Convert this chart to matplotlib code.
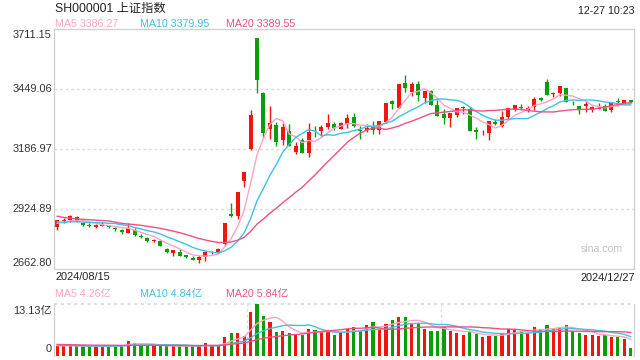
import numpy as np
import pandas as pd
import matplotlib
matplotlib.use("Agg")
import matplotlib.pyplot as plt

plt.rcParams['font.family'] = ['Liberation Sans', 'Noto Sans CJK SC']

# SSE Composite daily candles, 2024/08/15 - 2024/12/27
opens = [2845, 2873, 2878, 2891, 2862, 2857, 2846, 2852, 2854, 2844,
         2835, 2819, 2835, 2807, 2798, 2784, 2786, 2752, 2733, 2738,
         2722, 2712, 2702, 2716, 2735, 2737, 2770, 2901, 2893, 3049,
         3187, 3674, 3433, 3275, 3290, 3225, 3265, 3176, 3225, 3171,
         3272, 3264, 3285, 3294, 3275, 3295, 3325, 3270, 3270, 3285,
         3268, 3307, 3395, 3368, 3474, 3436, 3470, 3409, 3441, 3378,
         3342, 3322, 3335, 3364, 3362, 3268, 3255, 3259, 3305, 3286,
         3325, 3360, 3370, 3358, 3369, 3410, 3478, 3426, 3432, 3455,
         3390, 3375, 3375, 3360, 3363, 3375, 3356, 3397, 3388, 3400]
highs = [2879, 2885, 2900, 2896, 2866, 2862, 2860, 2867, 2857, 2848,
         2837, 2865, 2840, 2815, 2804, 2795, 2790, 2754, 2746, 2748,
         2724, 2720, 2722, 2741, 2741, 2756, 2864, 2952, 3000, 3088,
         3358, 3674, 3434, 3374, 3303, 3300, 3294, 3218, 3233, 3302,
         3286, 3290, 3339, 3306, 3306, 3340, 3344, 3286, 3296, 3308,
         3311, 3387, 3403, 3470, 3509, 3480, 3485, 3441, 3446, 3403,
         3362, 3346, 3368, 3375, 3369, 3282, 3272, 3310, 3320, 3353,
         3367, 3380, 3382, 3374, 3412, 3413, 3494, 3436, 3462, 3455,
         3397, 3375, 3396, 3375, 3390, 3384, 3394, 3410, 3399, 3401]
lows = [2835, 2865, 2870, 2866, 2850, 2845, 2843, 2849, 2844, 2830,
        2816, 2818, 2808, 2800, 2782, 2779, 2764, 2733, 2720, 2720,
        2711, 2703, 2689, 2699, 2730, 2733, 2762, 2889, 2882, 3020,
        3183, 3431, 3237, 3231, 3201, 3204, 3201, 3166, 3169, 3152,
        3240, 3243, 3276, 3272, 3274, 3280, 3284, 3232, 3262, 3254,
        3251, 3302, 3362, 3366, 3437, 3420, 3398, 3388, 3379, 3330,
        3298, 3285, 3325, 3342, 3267, 3230, 3249, 3228, 3291, 3285,
        3320, 3352, 3358, 3350, 3359, 3395, 3421, 3415, 3418, 3391,
        3380, 3339, 3348, 3349, 3360, 3351, 3349, 3376, 3383, 3390]
closes = [2877, 2879, 2893, 2866, 2856, 2849, 2854, 2855, 2848, 2837,
          2823, 2842, 2811, 2802, 2785, 2788, 2765, 2736, 2744, 2721,
          2717, 2704, 2717, 2736, 2736, 2748, 2863, 2896, 3000, 3087,
          3336, 3489, 3258, 3301, 3217, 3284, 3202, 3202, 3169, 3261,
          3268, 3285, 3302, 3280, 3300, 3322, 3286, 3266, 3279, 3272,
          3310, 3387, 3383, 3470, 3452, 3470, 3421, 3439, 3379, 3331,
          3324, 3346, 3367, 3370, 3267, 3263, 3259, 3309, 3295, 3326,
          3364, 3378, 3368, 3368, 3404, 3402, 3422, 3432, 3461, 3391,
          3386, 3361, 3382, 3370, 3368, 3352, 3393, 3394, 3399, 3393]
# volume in 亿
volumes = [2.6, 2.5, 2.6, 2.5, 2.4, 2.4, 2.4, 2.5, 2.4, 2.8,
           2.8, 3.9, 3.4, 2.7, 2.7, 2.5, 2.5, 2.5, 2.5, 2.5,
           2.5, 2.5, 2.5, 3.2, 2.5, 2.5, 4.7, 5.9, 5.9, 5.0,
           11.1, 13.13, 10.0, 8.5, 6.1, 6.3, 5.9, 5.4, 5.4, 6.8,
           6.6, 6.1, 6.1, 5.4, 5.9, 6.75, 7.4, 6.3, 7.9, 8.5,
           6.75, 8.1, 9.0, 9.8, 9.8, 8.1, 8.3, 6.8, 6.3, 6.3,
           7.3, 6.3, 5.86, 5.25, 6.1, 5.6, 4.7, 5.0, 5.0, 5.86,
           6.75, 6.75, 6.3, 5.86, 7.2, 6.8, 7.9, 6.75, 7.2, 7.9,
           6.3, 5.86, 5.25, 5.25, 5.0, 5.4, 4.7, 4.7, 4.3, 2.0]

# 19 sessions before the window, needed for the moving averages
prior_closes = [2982, 2964, 2915, 2901, 2886, 2890, 2891, 2879, 2938, 2932,
                2905, 2860, 2867, 2869, 2870, 2862, 2858, 2868, 2850]
prior_volumes = [3.3, 3.1, 2.9, 3.4, 3.0, 2.8, 2.7, 2.6, 2.9, 3.8,
                 3.3, 2.9, 3.0, 2.8, 2.7, 2.6, 2.6, 2.7, 2.6]

y_ticks = [3711.15, 3449.06, 3186.97, 2924.89, 2662.80]
ma_windows = [5, 10, 20]
ma_colors = ['#ffa3c4', '#3cc2e2', '#ef4f88']
price_ma_text = ['MA5 3386.27', 'MA10 3379.95', 'MA20 3389.55']
vol_ma_text = ['MA5 4.26亿', 'MA10 4.84亿', 'MA20 5.84亿']
start_label, end_label = '2024/08/15', '2024/12/27'

UP = '#f2150f'
DOWN = '#0a9e0a'
GRID = '#dcdcdc'
BORDER = '#cfcfcf'

W, H = 640, 360


def fx(x):
    return x / W


def fy(y):
    return 1 - y / H


n = len(closes)
x = np.arange(n)
o = np.array(opens, float)
c = np.array(closes, float)
colors = [UP if cc >= oo else DOWN for oo, cc in zip(o, c)]

close_all = pd.Series(prior_closes + closes)
vol_all = pd.Series(prior_volumes + volumes)
price_ma = [close_all.rolling(w).mean().values[-n:] for w in ma_windows]
vol_ma = [vol_all.rolling(w).mean().values[-n:] for w in ma_windows]

fig = plt.figure(figsize=(6.4, 3.6), dpi=100)

# ---- price panel
ax = fig.add_axes([fx(54), fy(269), 580 / W, 240 / H])
ax.set_xlim(-0.5, n - 0.5)
ax.set_ylim(y_ticks[-1], y_ticks[0])
for v in y_ticks[1:-1]:
    ax.axhline(v, color=GRID, lw=1.0, dashes=(2, 2), zorder=0)

ax.vlines(x, lows, highs, colors=colors, lw=1.0, zorder=2)
body_low = np.minimum(o, c)
body_h = np.maximum(np.abs(c - o), 4.0)
ax.bar(x, body_h, bottom=body_low, width=0.62, color=colors, lw=0, zorder=2)

for ma, col in zip(price_ma, ma_colors):
    ax.plot(x, ma, color=col, lw=1.0, zorder=3)

ax.set_xticks([])
ax.set_yticks([])
for s in ax.spines.values():
    s.set_color(BORDER)
    s.set_linewidth(0.9)

# price axis labels (top and bottom ones sit inside the box)
lab_y = [30, 89, 149, 209, 268]
lab_va = ['top', 'center', 'center', 'center', 'bottom']
for v, yy, va in zip(y_ticks, lab_y, lab_va):
    fig.text(fx(52), fy(yy), f'{v:.2f}', ha='right', va=va, fontsize=7.9, color='#333333')

fig.text(fx(602), fy(249), 'sina.com', ha='center', va='center', fontsize=7.6, color='#c4c4c4')

# ---- volume panel
axv = fig.add_axes([fx(54), fy(356), 580 / W, 52 / H])
axv.set_xlim(-0.5, n - 0.5)
axv.set_ylim(0, max(volumes))
axv.bar(x, volumes, width=0.5, color=colors, lw=0, zorder=2)
for ma, col in zip(vol_ma, ma_colors):
    axv.plot(x, ma, color=col, lw=1.0, zorder=3)
for k in (1, 2):
    axv.axvline(-0.5 + n * k / 3, color=GRID, lw=1.0, dashes=(2, 2), zorder=0)
axv.set_xticks([])
axv.set_yticks([])
for side in ('left', 'right'):
    axv.spines[side].set_color(BORDER)
    axv.spines[side].set_linewidth(0.9)
axv.spines['top'].set_visible(False)
axv.spines['bottom'].set_visible(False)
axv.axhline(max(volumes), color=GRID, lw=1.2, dashes=(2, 2), zorder=0, clip_on=False)

fig.text(fx(52), fy(305.5), f'{max(volumes):.2f}亿', ha='right', va='top', fontsize=7.9, color='#333333')
fig.text(fx(52), fy(349), '0', ha='right', va='center', fontsize=7.9, color='#333333')

# ---- header and legends
fig.text(fx(55), fy(8.5), 'SH000001 上证指数', ha='left', va='center', fontsize=8.8, color='#222222')
fig.text(fx(634), fy(11.5), '12-27 10:23', ha='right', va='center', fontsize=7.7, color='#222222')
for txt, col, xx in zip(price_ma_text, ma_colors, [55, 140, 225.7]):
    fig.text(fx(xx), fy(24), txt, ha='left', va='center', fontsize=7.7, color=col)
for txt, col, xx in zip(vol_ma_text, ma_colors, [55, 140, 225.7]):
    fig.text(fx(xx), fy(294.5), txt, ha='left', va='center', fontsize=7.7, color=col)

fig.text(fx(55), fy(277.5), start_label, ha='left', va='center', fontsize=7.9, color='#222222')
fig.text(fx(635), fy(278), end_label, ha='right', va='center', fontsize=7.9, color='#222222')

fig.savefig('out.png', dpi=100)
